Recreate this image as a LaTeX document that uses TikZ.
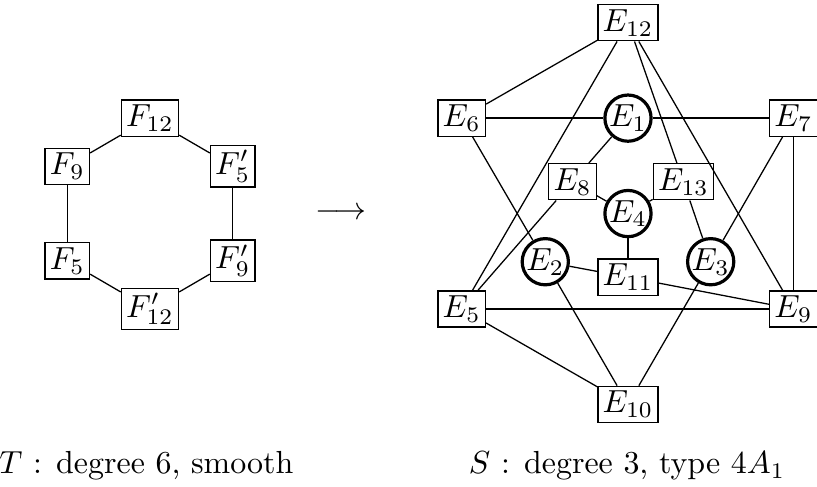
\documentclass[tikz,border=0pt]{standalone}
\usepackage{amsmath, amssymb, amsfonts}
\usepackage{tikz}
\usetikzlibrary{shapes,arrows,positioning}

\begin{document}
\begin{tikzpicture}[box/.style={draw, rectangle, inner sep=1.5pt},
    sing/.style={draw, circle, line width=1pt, inner sep=0pt}]
    \useasboundingbox (0,0) rectangle (8.99,5.35);
    % the sextic T
    \node (f12) [box] at (1.65,4.05) {$F_{12}$};
    \node (f9) [box] at (0.74,3.52) {$F_9$};
    \node (f5p) [box] at (2.56,3.52) {$F_5'$};
    \node (f5) [box] at (0.74,2.48) {$F_5$};
    \node (f9p) [box] at (2.56,2.48) {$F_9'$};
    \node (f12p) [box] at (1.65,1.95) {$F_{12}'$};
    \draw (f12) -- (f9);
    \draw (f12) -- (f5p);
    \draw (f9) -- (f5);
    \draw (f5p) -- (f9p);
    \draw (f5) -- (f12p);
    \draw (f9p) -- (f12p);
    \node (map) at (3.75,3.0) {$\longrightarrow$};
    % the cubic S
    \node (e12) [box] at (6.91,5.1) {$E_{12}$};
    \node (e6) [box] at (5.08,4.05) {$E_6$};
    \node (e7) [box] at (8.73,4.05) {$E_7$};
    \node (e5) [box] at (5.08,1.95) {$E_5$};
    \node (e9) [box] at (8.73,1.95) {$E_9$};
    \node (e10) [box] at (6.91,0.9) {$E_{10}$};
    \node (e8) [box] at (6.3,3.35) {$E_8$};
    \node (e13) [box] at (7.52,3.35) {$E_{13}$};
    \node (e11) [box] at (6.91,2.3) {$E_{11}$};
    \node (e1) [sing] at (6.91,4.05) {$E_1$};
    \node (e2) [sing] at (6.0,2.47) {$E_2$};
    \node (e3) [sing] at (7.82,2.47) {$E_3$};
    \node (e4) [sing] at (6.91,3.0) {$E_4$};
    \draw (e12) -- (e6);
    \draw (e12) -- (e5);
    \draw (e12) -- (e13);
    \draw (e12) -- (e9);
    \draw (e6) -- (e1);
    \draw (e1) -- (e7);
    \draw (e6) -- (e2);
    \draw (e7) -- (e3);
    \draw (e7) -- (e9);
    \draw (e1) -- (e8);
    \draw (e8) -- (e4);
    \draw (e13) -- (e4);
    \draw (e4) -- (e11);
    \draw (e8) -- (e5);
    \draw (e13) -- (e3);
    \draw (e2) -- (e11);
    \draw (e11) -- (e9);
    \draw (e5) -- (e9);
    \draw (e5) -- (e10);
    \draw (e2) -- (e10);
    \draw (e3) -- (e10);
    % captions
    \node (capt) at (1.61,0.22) {$T$ : degree 6, smooth};
    \node (caps) at (6.9,0.22) {$S$ : degree 3, type $4A_1$};
\end{tikzpicture}
\end{document}
